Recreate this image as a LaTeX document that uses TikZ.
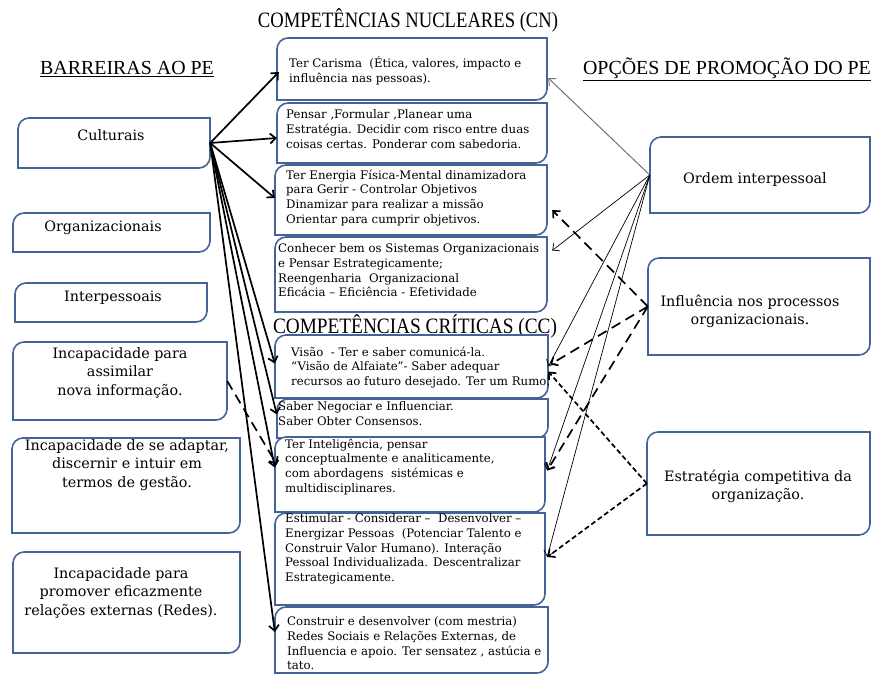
\documentclass[tikz,border=0pt]{standalone}
\usepackage{fontspec}
\setmainfont{Liberation Serif}
\newfontfamily\boxfont{DejaVu Serif}
\usetikzlibrary{arrows.meta,calc,fit}
\definecolor{boxblue}{RGB}{66,100,150}
\tikzset{
  boxline/.style={draw=boxblue, line width=1.6bp, fill=white},
  boxframe/.style={inner sep=0pt, draw=none},
  midtext/.style={anchor=north west, align=left, inner sep=0pt, font=\boxfont\fontsize{11.8}{14.8}\selectfont},
  sidetext/.style={anchor=north, align=center, inner sep=0pt, font=\boxfont\fontsize{14.4}{18.3}\selectfont},
  heading/.style={anchor=base, inner sep=0pt, font=\fontsize{20}{24}\selectfont},
  bigheading/.style={anchor=base, inner sep=0pt, font=\fontsize{22}{26}\selectfont},
  barbtip/.style={-{Straight Barb[length=5.5bp,width=10bp]}},
  strongline/.style={barbtip, line width=1.7bp, black},
  fineline/.style={barbtip, line width=0.7bp, black},
  greyline/.style={barbtip, line width=1bp, black!55},
  longdash/.style={barbtip, line width=1.7bp, black, dash pattern=on 10bp off 6bp},
  shortdash/.style={barbtip, line width=1.7bp, black, dash pattern=on 5bp off 3bp},
}
% box with rounded top-left and bottom-right corners: name, x1, y1, x2, y2
\newcommand\roundbox[5]{%
  \draw[boxline] ({#2+11},#3) -- (#4,#3) -- (#4,{#5-11})
     .. controls (#4,{#5-5}) and ({#4-5},#5) .. ({#4-11},#5)
     -- (#2,#5) -- (#2,{#3+11})
     .. controls (#2,{#3+5}) and ({#2+5},#3) .. ({#2+11},#3) -- cycle;
  \node[boxframe, fit={(#2,#3) (#4,#5)}] (#1) {};
}
\begin{document}
\begin{tikzpicture}[x=1bp,y=-1bp]
\useasboundingbox (0,0) rectangle (871,675);

% headings
\node[bigheading] (hcn) at (408,28) {\scalebox{0.85}[1]{COMPETÊNCIAS NUCLEARES (CN)}};
\node[bigheading] (hcc) at (415,333) {\scalebox{0.88}[1]{COMPETÊNCIAS CRÍTICAS (CC)}};
\node[heading] (hbar) at (127,75) {\underline{BARREIRAS AO PE}};
\node[heading] (hopc) at (727,75) {\underline{OPÇÕES DE PROMOÇÃO DO PE}};

% barriers
\roundbox{cult}{18}{118}{210}{168}
\roundbox{org}{13}{213}{210}{252}
\roundbox{inter}{15}{283}{207}{322}
\roundbox{inca}{13}{342}{227}{420}
\roundbox{incb}{12}{438}{240}{533}
\roundbox{incc}{13}{552}{240}{653}
\node[sidetext] (tcult) at (111,129.5) {Culturais};
\node[sidetext] (torg) at (103,220.5) {Organizacionais};
\node[sidetext] (tinter) at (113,290.5) {Interpessoais};
\node[sidetext] (tinca) at (120,347.5) {Incapacidade para\\assimilar\\nova informação.};
\node[sidetext] (tincb) at (127,439.5) {Incapacidade de se adaptar,\\discernir e intuir em\\termos de gestão.};
\node[sidetext] (tincc) at (121,567.5) {Incapacidade para\\promover eficazmente\\relações externas (Redes).};

% core competences
\roundbox{cna}{277}{38}{547}{100}
\roundbox{cnb}{277}{103}{547}{163}
\roundbox{cnc}{275}{165}{547}{235}
\roundbox{cnd}{275}{237}{547}{312}
\node[midtext] (tcna) at (289,56.5) {Ter Carisma \ (Ética, valores, impacto e\\influência nas pessoas).};
\node[midtext] (tcnb) at (286,109.5) {Pensar ,Formular ,Planear uma\\Estratégia. Decidir com risco entre duas\\coisas certas. Ponderar com sabedoria.};
\node[midtext] (tcnc) at (286,169.5) {Ter Energia Física-Mental dinamizadora\\para Gerir - Controlar Objetivos\\Dinamizar para realizar a missão\\Orientar para cumprir objetivos.};
\node[midtext] (tcnd) at (278,243.5) {Conhecer bem os Sistemas Organizacionais\\e Pensar Estrategicamente;\\Reengenharia \ Organizacional\\Eficácia – Eficiência - Efetividade};

% critical competences
\roundbox{cca}{275}{335}{548}{398}
\roundbox{ccb}{277}{399}{548}{438}
\roundbox{ccc}{275}{437}{545}{512}
\roundbox{ccd}{275}{513}{545}{605}
\roundbox{cce}{275}{607}{548}{673}
\node[midtext] (tcca) at (291,346.5) {Visão \ - Ter e saber comunicá-la.\\“Visão de Alfaiate”- Saber adequar\\recursos ao futuro desejado. Ter um Rumo.};
\node[midtext] (tccb) at (278,401.5) {Saber Negociar e Influenciar.\\Saber Obter Consensos.};
\node[midtext] (tccc) at (285,438.5) {Ter Inteligência, pensar\\conceptualmente e analiticamente,\\com abordagens \ sistémicas e\\multidisciplinares.};
\node[midtext] (tccd) at (285,513.5) {Estimular - Considerar – \ Desenvolver –\\Energizar Pessoas \ (Potenciar Talento e\\Construir Valor Humano). Interação\\Pessoal Individualizada. Descentralizar\\Estrategicamente.};
\node[midtext] (tcce) at (287,616.5) {Construir e desenvolver (com mestria)\\Redes Sociais e Relações Externas, de\\Influencia e apoio. Ter sensatez , astúcia e\\tato.};

% promotion options
\roundbox{opa}{650}{137}{870}{213}
\roundbox{opb}{648}{258}{870}{355}
\roundbox{opc}{647}{432}{870}{535}
\node[sidetext] (topa) at (755,172.5) {Ordem interpessoal};
\node[sidetext] (topb) at (750,294.5) {Influência nos processos\\organizacionais.};
\node[sidetext] (topc) at (758,469.5) {Estratégia competitiva da\\organização.};

% barriers -> competences
\draw[strongline] (cult.east) -- ($(cna.west)+(2,3)$);
\draw[strongline] (cult.east) -- ($(cnb.west)+(0,5)$);
\draw[strongline] (cult.east) -- ($(cnc.west)+(0,-2)$);
\draw[strongline] (cult.east) -- ($(cca.west)+(0,-3)$);
\draw[strongline] (cult.east) -- ($(ccb.west)+(0,-4)$);
\draw[strongline] (cult.east) -- ($(ccc.west)+(0,-7)$);
\draw[strongline] (cult.east) -- ($(cce.west)+(0,-8)$);
\draw[longdash] (inca.east) -- ($(ccc.west)+(2,-10)$);

% interpersonal order
\draw[greyline] (opa.west) -- ($(cna.east)+(1,9)$);
\draw[fineline] (opa.west) -- ($(cnd.east)+(5,-24)$);
\draw[fineline] (opa.west) -- ($(cca.east)+(0,0)$);
\draw[fineline] (opa.west) -- ($(ccc.east)+(2,-4)$);
\draw[fineline] (opa.west) -- ($(ccd.east)+(2,-2)$);

% influence on organisational processes
\draw[longdash] (opb.west) -- ($(cnc.east)+(5,10)$);
\draw[longdash] (opb.west) -- ($(cca.east)+(2,-2)$);
\draw[longdash] (opb.west) -- ($(ccc.east)+(2,-4)$);

% competitive strategy
\draw[shortdash] (opc.west) -- ($(cca.east)+(0,5)$);
\draw[shortdash] (opc.west) -- ($(ccd.east)+(2,-2)$);
\end{tikzpicture}
\end{document}
